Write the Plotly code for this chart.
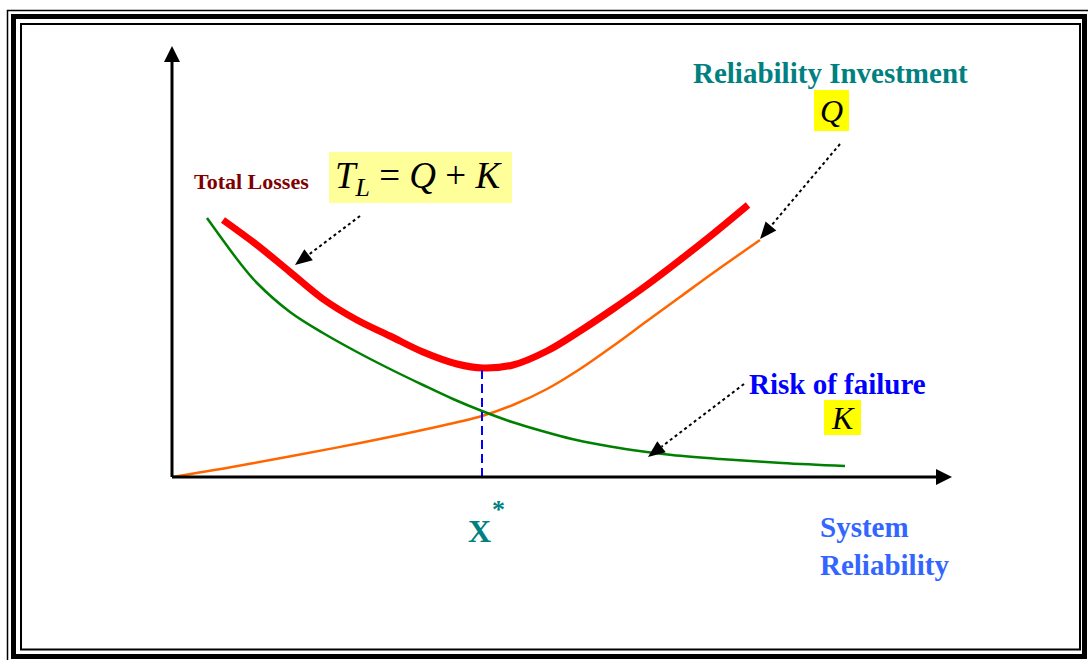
import plotly.graph_objects as go

# ---- data (conceptual units: x = system reliability, y = cost) ----
total_x = [51, 85, 118, 151, 185, 218, 251, 285, 311, 341, 375, 408, 441, 475, 508, 541, 576]
total_y = [257, 232, 205, 178, 157, 141, 125, 113, 109, 112, 126, 146, 168, 192, 217, 243, 272]

risk_x = [35, 68, 85, 118, 151, 185, 218, 251, 281, 310, 340, 370, 400, 430, 460, 500, 548, 610, 673]
risk_y = [259, 214, 194, 165, 144, 125, 108, 92, 78, 66, 55, 46, 38, 32, 27, 22, 18, 14, 11]

invest_x = [0, 60, 120, 188, 255, 310, 341, 375, 408, 441, 475, 508, 541, 588]
invest_y = [0, 10, 21, 34, 48, 61, 72, 88, 108, 131, 156, 180, 204, 237]

x_star = 310
x_star_line_y = [0, 109]

x_axis_end = 780
y_axis_end = 431

W, H = 1088, 660
OX, OY = 172, 477  # pixel position of the origin


def px(v):
    return v - OX


def py(v):
    return OY - v


fig = go.Figure()

fig.add_trace(go.Scatter(x=invest_x, y=invest_y, mode="lines", line=dict(color="#FF6600", width=2.5, shape="spline"), hoverinfo="skip"))
fig.add_trace(go.Scatter(x=risk_x, y=risk_y, mode="lines", line=dict(color="#008000", width=2.5, shape="spline"), hoverinfo="skip"))
fig.add_trace(go.Scatter(x=total_x, y=total_y, mode="lines", line=dict(color="#FF0000", width=7, shape="spline"), hoverinfo="skip"))
fig.add_trace(go.Scatter(x=[x_star, x_star], y=x_star_line_y, mode="lines", line=dict(color="#0000FF", width=2, dash="9px,5px"), hoverinfo="skip"))

shapes = []
# frame (triple border)
shapes.append(dict(type="rect", xref="x", yref="y", x0=px(7.5), y0=py(10.5), x1=px(1092), y1=py(666), line=dict(color="black", width=1.5)))
shapes.append(dict(type="rect", xref="x", yref="y", x0=px(13.5), y0=py(16.5), x1=px(1084.5), y1=py(656.5), line=dict(color="black", width=5)))
shapes.append(dict(type="rect", xref="x", yref="y", x0=px(21), y0=py(24), x1=px(1080), y1=py(649.5), line=dict(color="black", width=2)))

# axes
shapes.append(dict(type="line", xref="x", yref="y", x0=0, y0=0, x1=0, y1=y_axis_end - 14, line=dict(color="black", width=3)))
shapes.append(dict(type="line", xref="x", yref="y", x0=0, y0=0, x1=x_axis_end - 14, y1=0, line=dict(color="black", width=3)))
shapes.append(dict(type="path", xref="x", yref="y",
                   path=f"M -8,{y_axis_end - 16} L 8,{y_axis_end - 16} L 0,{y_axis_end} Z",
                   fillcolor="black", line=dict(color="black", width=0)))
shapes.append(dict(type="path", xref="x", yref="y",
                   path=f"M {x_axis_end - 16},8 L {x_axis_end - 16},-8 L {x_axis_end},0 Z",
                   fillcolor="black", line=dict(color="black", width=0)))

# label boxes
shapes.append(dict(type="rect", xref="x", yref="y", x0=px(329), y0=py(152), x1=px(512), y1=py(203), fillcolor="#FFFF99", line=dict(width=0), layer="below"))
shapes.append(dict(type="rect", xref="x", yref="y", x0=px(814), y0=py(90), x1=px(849), y1=py(131), fillcolor="#FFFF00", line=dict(width=0), layer="below"))
shapes.append(dict(type="rect", xref="x", yref="y", x0=px(824), y0=py(400), x1=px(861), y1=py(435), fillcolor="#FFFF00", line=dict(width=0), layer="below"))

# dotted pointer arrows with filled heads
HEAD, HALF = 17, 7
for (sx, sy), (tx, ty) in [((360, 216), (295, 265)), ((840, 144), (760, 239)), ((744, 384), (648, 457))]:
    dx, dy = sx - tx, sy - ty
    ln = (dx * dx + dy * dy) ** 0.5
    ux, uy = dx / ln, dy / ln
    bx, by = tx + ux * HEAD, ty + uy * HEAD
    nx, ny = -uy, ux
    shapes.append(dict(type="line", xref="x", yref="y", x0=px(sx), y0=py(sy), x1=px(bx), y1=py(by),
                       line=dict(color="black", width=2, dash="dot")))
    shapes.append(dict(type="path", xref="x", yref="y",
                       path=(f"M {px(tx)},{py(ty)} L {px(bx + nx * HALF)},{py(by + ny * HALF)} "
                             f"L {px(bx - nx * HALF)},{py(by - ny * HALF)} Z"),
                       fillcolor="black", line=dict(color="black", width=0)))

annotations = []
SERIF = "Liberation Serif"


def label(text, x, y, size, color, xanchor="center", align="center"):
    annotations.append(dict(x=px(x), y=py(y), xref="x", yref="y", text=text, showarrow=False,
                            xanchor=xanchor, yanchor="middle", align=align,
                            font=dict(family=SERIF, size=size, color=color)))


label("<b>Total Losses</b>", 251, 181, 22, "#800000")
label("<i>T</i><sub><i>L</i></sub> = <i>Q</i> + <i>K</i>", 418, 178, 37, "black")
label("<b>Reliability Investment</b>", 830, 73, 29, "#008080")
label("<i>Q</i>", 831.5, 111, 32, "black")
label("<b>Risk of failure</b>", 837, 384, 29, "#0000FF")
label("<i>K</i>", 842.5, 418, 32, "black")
label("<b>X</b>", 479, 531, 32, "#008080")
label("<b>*</b>", 498, 509, 26, "#008080")
label("<b>System<br>Reliability</b>", 818, 546, 29, "#3366FF", xanchor="left", align="left")

fig.update_layout(
    width=W, height=H,
    margin=dict(l=0, r=0, t=0, b=0),
    paper_bgcolor="white", plot_bgcolor="white",
    showlegend=False,
    xaxis=dict(range=[px(0), px(W)], visible=False, fixedrange=True),
    yaxis=dict(range=[py(H), py(0)], visible=False, fixedrange=True),
    shapes=shapes,
    annotations=annotations,
)

fig.write_html("out.html", post_script="document.body.style.margin='0';", config={"displayModeBar": False})
